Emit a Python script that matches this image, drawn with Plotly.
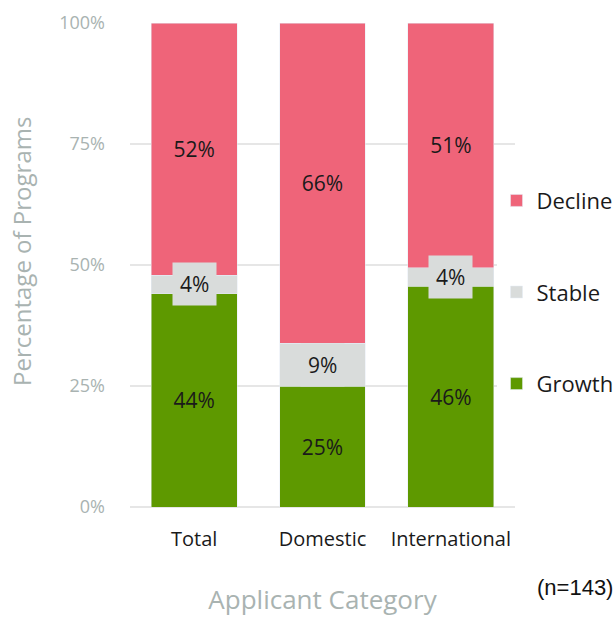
import plotly.graph_objects as go

categories = ["Total", "Domestic", "International"]
growth = [44.1, 25.0, 45.6]
stable = [3.8, 8.8, 3.8]
decline = [52.1, 66.2, 50.6]
y_ticks = [0, 25, 50, 75, 100]
y_tick_labels = ["0%", "25%", "50%", "75%", "100%"]

C_GROWTH = "#5E9900"
C_STABLE = "#D9DCDB"
C_DECLINE = "#EF6479"
GRAY = "#A9B3B1"
FONT = "Open Sans"

fig = go.Figure()
fig.add_trace(go.Bar(x=categories, y=growth, name="Growth", marker_color=C_GROWTH,
                     legendgroup="g", legendrank=3, text=growth, texttemplate="%{y:.0f}%",
                     textposition="inside", insidetextanchor="middle",
                     textfont=dict(color="#1a1a1a", size=21, family=FONT)))
fig.add_trace(go.Bar(x=categories, y=stable, name="Stable", marker_color=C_STABLE,
                     legendgroup="s", legendrank=2, textposition="none"))
fig.add_trace(go.Bar(x=categories, y=decline, name="Decline", marker_color=C_DECLINE,
                     legendgroup="d", legendrank=1, text=decline, texttemplate="%{y:.0f}%",
                     textposition="inside", insidetextanchor="middle",
                     textfont=dict(color="#1a1a1a", size=21, family=FONT)))

for c, g, s in zip(categories, growth, stable):
    fig.add_annotation(x=c, y=g + s / 2, text=f"{s:.0f}%", showarrow=False,
                       bgcolor=C_STABLE, borderpad=7,
                       font=dict(color="#1a1a1a", size=21, family=FONT))

fig.add_annotation(xref="paper", yref="paper", x=1.053, y=-0.167, xanchor="left",
                   yanchor="middle", text="(n=143)", showarrow=False,
                   font=dict(family="Liberation Sans", size=22, color="#111"))

# y-axis title
fig.add_annotation(xref="paper", yref="paper", x=-0.2805, y=0.527, xanchor="center",
                   yanchor="middle", text="Percentage of Programs", textangle=-90,
                   showarrow=False, font=dict(family=FONT, size=24, color=GRAY))

fig.update_layout(
    width=616, height=617,
    barmode="stack", bargap=0.33,
    plot_bgcolor="white", paper_bgcolor="white",
    margin=dict(l=130, r=101, t=23, b=110, autoexpand=False),
    font=dict(family=FONT),
    legend=dict(x=0.952, xanchor="left", y=0.444, yanchor="middle",
                traceorder="grouped", tracegroupgap=60,
                font=dict(size=22, color="#1a1a1a")),
    xaxis=dict(title=dict(text="Applicant Category", font=dict(size=26, color=GRAY), standoff=42),
               tickfont=dict(size=20, color="#1a1a1a"), ticklabelstandoff=18,
               showgrid=False, showline=False),
    yaxis=dict(range=[0, 100], tickmode="array", tickvals=y_ticks, ticktext=y_tick_labels,
               tickfont=dict(size=18, color=GRAY), ticklabelstandoff=24,
               showgrid=True, gridcolor="#E6E6E6", gridwidth=1.5,
               zeroline=True, zerolinecolor="#E6E6E6", zerolinewidth=1.5),
)

fig.write_html("out.html", config={"displayModeBar": False},
               post_script="document.body.style.margin='0';document.body.style.overflow='hidden';")
